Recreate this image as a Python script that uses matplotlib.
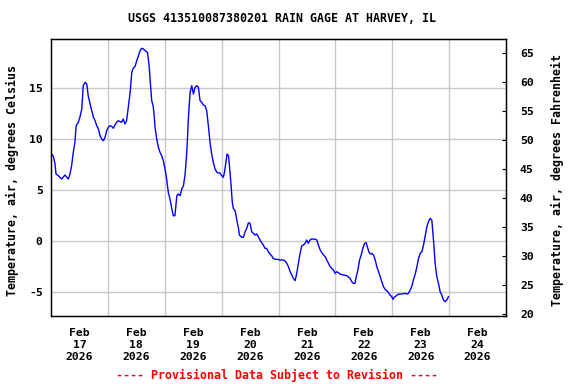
import matplotlib
matplotlib.use("Agg")
import matplotlib.pyplot as plt

# hours since Feb 17 2026 00:00 and air temperature (deg C)
hours = [0.3, 1.0, 1.7, 2.1, 3.1, 4.5, 5.9, 7.3, 8.0, 8.7, 9.4, 10.1, 10.6, 11.5, 12.2,
         13.0, 13.6, 14.4, 15.1, 15.7, 16.5, 17.2, 17.9, 18.6, 19.3, 20.0, 20.7, 21.4,
         22.1, 22.8, 23.5, 24.2, 24.9, 25.6, 26.3, 27.0, 27.7, 28.4, 29.1, 29.8, 30.5,
         31.2, 31.9, 32.6, 33.4, 34.1, 34.7, 35.5, 36.2, 36.9, 37.6, 38.3, 39.0, 39.7,
         40.7, 41.4, 41.8, 42.5, 43.1, 43.6, 43.9, 44.6, 45.3, 46.0, 46.7, 47.4, 48.1,
         48.8, 49.5, 50.2, 51.0, 51.6, 52.3, 53.1, 53.7, 54.5, 55.2, 55.9, 56.6, 57.3,
         58.0, 58.7, 59.4, 60.1, 60.8, 61.5, 62.2, 62.9, 63.6, 64.3, 65.0, 65.7, 66.4,
         67.1, 67.8, 68.5, 69.2, 70.0, 70.6, 71.3, 72.1, 72.7, 73.2, 73.8, 74.3, 74.9,
         75.3, 76.0, 76.5, 77.0, 77.7, 78.4, 79.1, 79.5, 80.5, 81.2, 81.9, 82.6, 83.3,
         84.0, 84.7, 85.4, 86.1, 86.8, 87.5, 88.2, 88.9, 89.6, 90.3, 91.0, 91.7, 92.4,
         93.2, 93.8, 94.6, 95.3, 96.7, 98.1, 98.8, 99.5, 100.2, 100.9, 101.6, 102.3,
         103.0, 103.7, 104.4, 105.1, 105.8, 106.5, 107.2, 107.9, 108.6, 109.3, 110.0,
         111.5, 112.2, 112.8, 113.6, 114.3, 115.0, 115.7, 116.4, 117.1, 117.8, 118.5,
         119.2, 119.9, 120.6, 121.3, 122.0, 123.4, 124.8, 126.2, 126.9, 127.6, 128.3,
         128.8, 129.5, 130.2, 130.9, 131.6, 132.3, 133.0, 133.5, 134.1, 134.7, 135.4,
         136.1, 136.8, 137.5, 138.2, 138.9, 139.6, 140.3, 141.0, 141.7, 142.4, 143.1,
         143.8, 144.3, 144.8, 145.6, 146.6, 148.0, 149.4, 150.2, 150.8, 151.6, 152.3,
         152.9, 153.7, 154.4, 155.1, 155.8, 156.5, 157.2, 157.9, 158.6, 159.3, 160.0,
         160.7, 161.4, 162.1, 162.8, 163.5, 164.2, 164.9, 165.6, 166.3, 167.0, 167.7]
temp_c = [8.56, 8.33, 7.58, 6.60, 6.43, 6.11, 6.50, 6.11, 6.60, 7.41, 8.73, 9.71, 11.33,
          11.67, 12.16, 12.97, 15.25, 15.59, 15.42, 14.27, 13.46, 12.80, 12.16, 11.82,
          11.33, 11.01, 10.35, 10.03, 9.86, 10.20, 10.84, 11.18, 11.33, 11.27, 11.08,
          11.40, 11.67, 11.82, 11.73, 11.67, 11.99, 11.50, 11.82, 13.14, 14.61, 16.57,
          16.96, 17.16, 17.71, 18.20, 18.69, 18.92, 18.85, 18.69, 18.53, 17.22, 15.91,
          13.78, 13.29, 12.16, 11.18, 10.03, 9.22, 8.73, 8.39, 7.90, 7.09, 6.11, 4.80,
          4.15, 3.17, 2.51, 2.51, 4.47, 4.64, 4.47, 5.13, 5.45, 6.60, 8.73, 12.16, 14.61,
          15.25, 14.44, 15.10, 15.25, 15.10, 13.78, 13.63, 13.36, 13.29, 12.80, 11.33,
          9.71, 8.56, 7.75, 7.09, 6.76, 6.70, 6.70, 6.43, 6.27, 6.76, 7.75, 8.56, 8.39,
          7.41, 5.45, 3.82, 3.17, 3.00, 2.09, 1.30, 0.62, 0.39, 0.39, 0.94, 1.27, 1.82,
          1.76, 0.94, 0.78, 0.62, 0.72, 0.45, 0.13, -0.14, -0.36, -0.69, -0.69, -1.02,
          -1.24, -1.44, -1.69, -1.76, -1.76, -1.83, -1.83, -1.93, -2.16, -2.49, -2.98,
          -3.30, -3.63, -3.86, -3.14, -2.16, -1.18, -0.46, -0.36, -0.20, 0.13, -0.20,
          0.13, 0.23, 0.20, 0.13, -0.36, -0.85, -1.12, -1.34, -1.51, -1.83, -2.16, -2.49,
          -2.65, -2.81, -3.14, -2.98, -3.08, -3.21, -3.30, -3.37, -3.63, -3.96, -4.12,
          -4.12, -3.47, -2.81, -1.83, -1.34, -0.69, -0.20, -0.14, -0.53, -1.02, -1.24,
          -1.18, -1.34, -1.83, -2.49, -2.98, -3.47, -3.96, -4.45, -4.71, -4.84, -5.04,
          -5.27, -5.43, -5.69, -5.49, -5.36, -5.17, -5.17, -5.10, -5.17, -5.10, -4.77,
          -4.38, -3.79, -3.21, -2.49, -1.67, -1.18, -1.02, -0.36, 0.52, 1.43, 1.92, 2.25,
          2.09, 0.13, -2.16, -3.47, -4.12, -4.94, -5.27, -5.75, -5.92, -5.75, -5.43]

days = ["17", "18", "19", "20", "21", "22", "23", "24"]
c_ticks = [-5, 0, 5, 10, 15]
f_ticks = [20, 25, 30, 35, 40, 45, 50, 55, 60, 65]

FONT = "DejaVu Sans Mono"
plt.rcParams["font.family"] = FONT
plt.rcParams["font.weight"] = "bold"
plt.rcParams["font.size"] = 8.2

fig = plt.figure(figsize=(5.76, 3.84), dpi=100)
ax = fig.add_axes([51 / 576, 1 - 316 / 384, 455 / 576, 277 / 384])

ax.plot(hours, temp_c, color="#0000ff", lw=1.0)

ax.set_xlim(0, 192)
ax.set_ylim(-7.32, 19.83)
ax.set_yticks(c_ticks)
ax.set_yticklabels([str(v) for v in c_ticks], fontweight="bold")
ax.set_xticks([12 + 24 * i for i in range(len(days))])
ax.set_xticklabels(["Feb\n%s\n2026" % d for d in days], fontweight="bold", linespacing=1.2)
ax.set_xticks([24 * i for i in range(1, 8)], minor=True)
ax.tick_params(axis="x", which="both", length=0, pad=9)
ax.tick_params(axis="y", length=0, pad=6)
ax.grid(True, which="minor", axis="x", color="#c8c8c8", lw=1.0)
ax.grid(True, which="major", axis="y", color="#c8c8c8", lw=1.0)
ax.set_axisbelow(True)
for s in ax.spines.values():
    s.set_linewidth(1.0)

ax2 = ax.twinx()
ax2.set_ylim(19.6, 67.36)
ax2.set_yticks(f_ticks)
ax2.set_yticklabels([str(v) for v in f_ticks], fontweight="bold")
ax2.tick_params(axis="y", direction="in", length=3, pad=10)

fig.text(0.49, 1 - 19 / 384, "USGS 413510087380201 RAIN GAGE AT HARVEY, IL",
         ha="center", va="center", fontsize=8.4, fontweight="bold")
fig.text(12 / 576, 1 - 180 / 384, "Temperature, air, degrees Celsius",
         rotation=90, ha="center", va="center", fontsize=8.4, fontweight="bold")
fig.text(557 / 576, 1 - 180 / 384, "Temperature, air, degrees Fahrenheit",
         rotation=90, ha="center", va="center", fontsize=8.4, fontweight="bold")
fig.text(277 / 576, 1 - 375 / 384, "---- Provisional Data Subject to Revision ----",
         ha="center", va="center", color="red", fontsize=8.4, fontweight="bold")

fig.savefig("out.png", dpi=100)
